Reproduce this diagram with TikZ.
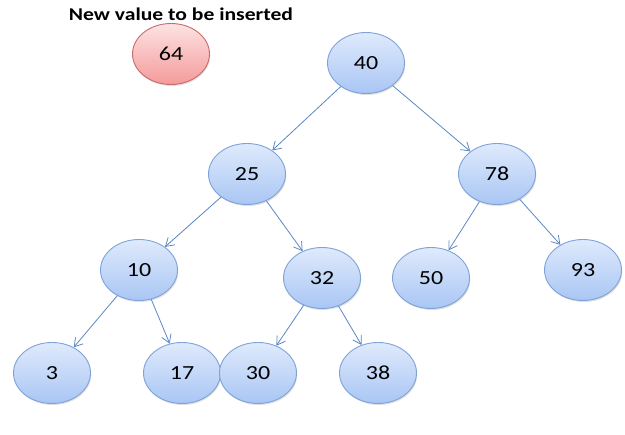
\documentclass[tikz,border=0pt]{standalone}
\usepackage{fontspec}
\setmainfont{Carlito}[FakeStretch=1.2]
\usetikzlibrary{shapes.geometric,arrows.meta,shadows}
\definecolor{edgeblue}{HTML}{5B87C5}
\definecolor{nodeborder}{HTML}{7FA2D8}
\definecolor{nodetop}{HTML}{DFEAFC}
\definecolor{nodebot}{HTML}{A9C6F4}
\definecolor{redtop}{HTML}{FDE3E3}
\definecolor{redbot}{HTML}{F49A9A}
\definecolor{redborder}{HTML}{C86A6A}
\tikzset{
  bst/.style={ellipse, draw=nodeborder, line width=0.9pt, top color=nodetop, bottom color=nodebot,
    minimum width=77pt, minimum height=61pt, inner sep=0pt, font=\fontsize{20}{20}\selectfont,
    drop shadow={shadow xshift=0.8pt, shadow yshift=-1.5pt, opacity=0.25}},
  newval/.style={bst, draw=redborder, top color=redtop, bottom color=redbot},
  link/.style={draw=edgeblue, line width=0.8pt, -{Straight Barb[length=8pt,width=10pt,line width=0.8pt]}},
  title/.style={font=\bfseries\fontsize{18}{18}\selectfont}
}
\begin{document}
\begin{tikzpicture}[x=1pt,y=-1pt]
\useasboundingbox (0,0) rectangle (625,435);
\node[title] (t) at (181,14) {New value to be inserted};
\node[newval] (n64) at (171,54) {64};
\node[bst] (n40) at (366,63) {40};
\node[bst] (n25) at (247,174) {25};
\node[bst] (n78) at (497,174) {78};
\node[bst] (n10) at (139,270) {10};
\node[bst] (n32) at (322,278) {32};
\node[bst] (n50) at (431,278) {50};
\node[bst] (n93) at (583,270) {93};
\node[bst] (n3) at (52,373) {3};
\node[bst] (n17) at (182,373) {17};
\node[bst] (n30) at (258,373) {30};
\node[bst] (n38) at (378,373) {38};
\draw[link] (n40) -- (n25);
\draw[link] (n40) -- (n78);
\draw[link] (n25) -- (n10);
\draw[link] (n25) -- (n32);
\draw[link] (n78) -- (n50);
\draw[link] (n78) -- (n93);
\draw[link] (n10) -- (n3);
\draw[link] (n10) -- (n17);
\draw[link] (n32) -- (n30);
\draw[link] (n32) -- (n38);
\end{tikzpicture}
\end{document}
